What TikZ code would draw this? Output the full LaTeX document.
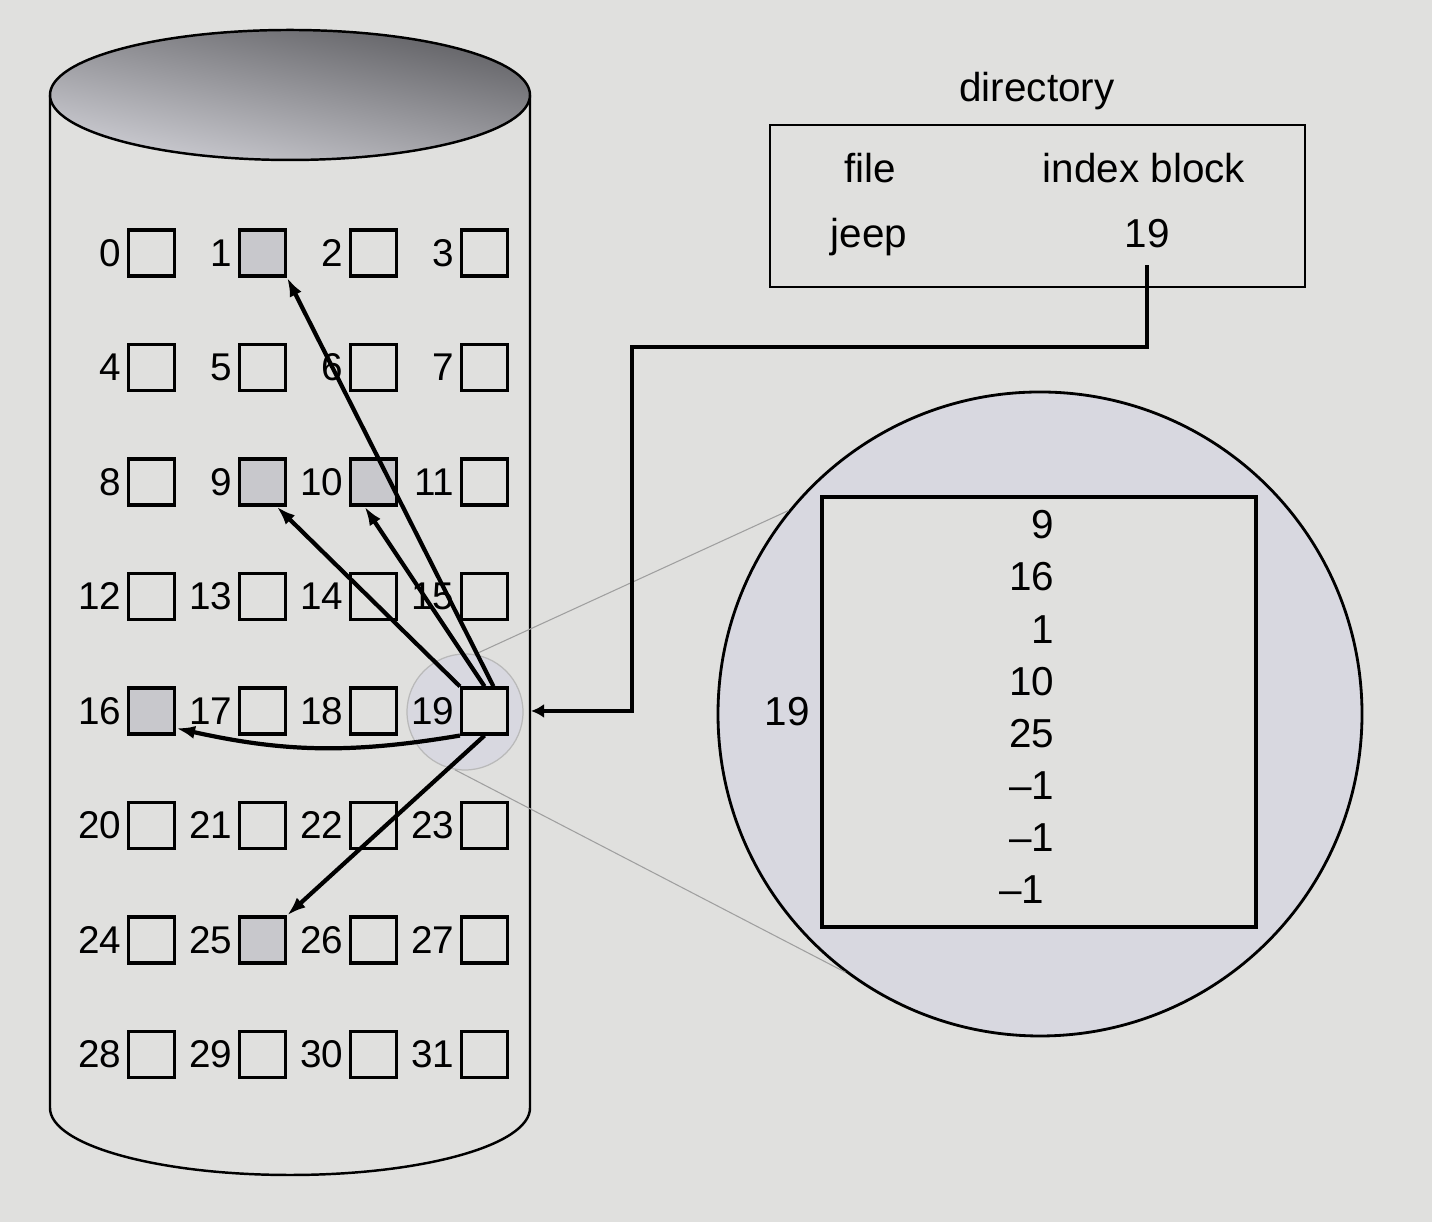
\documentclass[tikz,border=0pt]{standalone}
\usepackage{fontspec}
\setmainfont{Liberation Sans}
\usetikzlibrary{arrows.meta, positioning}

\definecolor{paper}{RGB}{224,224,222}
\definecolor{usedgray}{RGB}{200,200,204}
\definecolor{lensfill}{RGB}{216,216,224}
\definecolor{diskdark}{RGB}{96,96,100}
\definecolor{disklight}{RGB}{206,206,212}

\tikzset{
  blk/.style={draw, line width=0.9pt, minimum size=0.46cm, inner sep=0pt, fill=paper},
  blklabel/.style={inner sep=0.5pt, font=\fontsize{11}{13}\selectfont},
  txt/.style={inner sep=0pt, font=\fontsize{11.5}{14}\selectfont},
  ptr/.style={line width=1.2pt, -{Latex[length=1.9mm,width=1.3mm]}},
  link/.style={line width=1.2pt, -{Latex[length=1.3mm,width=1.4mm]}},
  magline/.style={draw=gray!75, line width=0.3pt},
}

\begin{document}
\begin{tikzpicture}
  \useasboundingbox[fill=paper] (0,0) rectangle (14.32,12.22);

  % the disk
  \draw[line width=0.7pt] (0.5,11.27) -- (0.5,1.14) arc (180:360:2.4 and 0.67) -- (5.3,11.27);
  \draw[line width=0.7pt, top color=diskdark, bottom color=disklight, shading angle=-12]
    (2.9,11.27) ellipse (2.4 and 0.65);

  % enlarged index block
  \node[circle, draw, line width=0.8pt, fill=lensfill, minimum size=6.44cm] (zoom) at (10.40,5.08) {};
  \node[draw, line width=0.9pt, fill=paper, minimum width=4.34cm, minimum height=4.30cm] (idxblk) at (10.39,5.10) {};
  \foreach \v [count=\i] in {9,16,1,10,25,–1,–1}
    \node[txt, anchor=east] (e\i) at (10.55, 6.97-0.521*\i+0.521) {\v};
  \node[txt, anchor=east] (e8) at (10.45,3.32) {–1};
  \node[txt] (zlabel) at (7.87,5.10) {19};

  % lens over block 19
  \node[circle, minimum size=1.16cm, fill=lensfill, draw=gray!55, line width=0.35pt] (lens) at (4.65,5.10) {};

  % blocks 0..31
  \foreach \n in {0,...,31}{
    \pgfmathtruncatemacro\col{mod(\n,4)}
    \pgfmathtruncatemacro\row{div(\n,4)}
    \pgfmathtruncatemacro\isused{(\n==1)||(\n==9)||(\n==10)||(\n==16)||(\n==25)}
    \ifnum\isused=1 \def\blkfill{usedgray}\else\def\blkfill{paper}\fi
    \node[blk, fill=\blkfill] (b\n) at (1.515+1.11*\col, 9.69-1.145*\row) {};
    \node[blklabel, left=0.03cm of b\n] (l\n) {\n};
  }

  \draw[magline] (lens.80) -- (zoom.141);
  \draw[magline] (lens.-100) -- (zoom.-127);

  % pointers held in block 19
  \draw[ptr] (b19.70) -- (b1.south east);
  \draw[ptr] (b19.north) -- (b10.-110);
  \draw[ptr] (b19.north west) -- (b9.-60);
  \draw[ptr] (b19.south west) to[bend left=11] (b16.-35);
  \draw[ptr] (b19.south) -- (b25.north east);

  % directory
  \node[txt, anchor=base] (dirtitle) at (10.37,11.20) {directory};
  \node[draw, line width=0.8pt, minimum width=5.35cm, minimum height=1.62cm] (dir) at (10.375,10.16) {};
  \node[txt, anchor=base] (fhead) at (8.70,10.39) {file};
  \node[txt, anchor=base] (ihead) at (11.44,10.39) {index block};
  \node[txt, anchor=base] (fname) at (8.69,9.74) {jeep};
  \node[txt, anchor=base] (fidx) at (11.47,9.74) {19};

  \coordinate (hit) at ([xshift=2.2mm]b19.east);
  \draw[link] ([yshift=-1.6mm]fidx.south) |- (6.32,8.75) |- (hit);
\end{tikzpicture}
\end{document}
